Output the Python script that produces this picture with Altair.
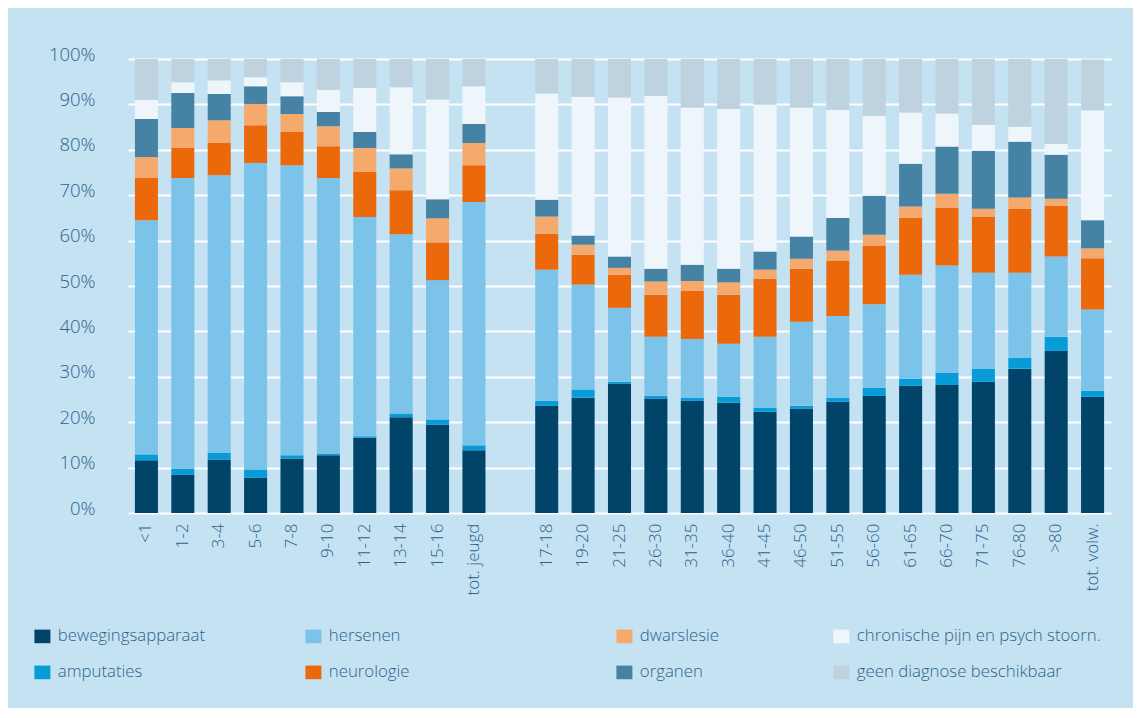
import altair as alt
import pandas as pd

# ---------------- data ----------------
youth = ["<1", "1-2", "3-4", "5-6", "7-8", "9-10", "11-12", "13-14", "15-16", "tot. jeugd"]
adults = ["17-18", "19-20", "21-25", "26-30", "31-35", "36-40", "41-45", "46-50",
          "51-55", "56-60", "61-65", "66-70", "71-75", "76-80", ">80", "tot. volw."]
groups = youth + adults
spacer = " "

categories = ["bewegingsapparaat", "amputaties", "hersenen", "neurologie",
              "dwarslesie", "organen", "chronische pijn en psych stoorn.",
              "geen diagnose beschikbaar"]
colors = ["#00446a", "#079bd8", "#7bc3e9", "#eb690b",
          "#f5a96d", "#4682a3", "#eef6fc", "#bfd2e0"]

bewegingsapparaat = [11.6, 8.5, 11.8, 7.8, 12.0, 12.7, 16.6, 21.1, 19.5, 13.8,
                     23.6, 25.4, 28.5, 25.2, 24.7, 24.3, 22.3, 23.0, 24.5, 25.8, 28.0, 28.2, 28.9, 31.8, 35.7, 25.6]
amputaties = [1.3, 1.3, 1.5, 1.8, 0.7, 0.4, 0.3, 0.8, 1.1, 1.1,
              1.1, 1.8, 0.4, 0.6, 0.7, 1.3, 0.9, 0.6, 0.9, 1.8, 1.6, 2.7, 2.9, 2.4, 3.1, 1.3]
hersenen = [51.6, 64.0, 61.1, 67.5, 63.9, 60.7, 48.3, 39.5, 30.7, 53.6,
            28.9, 23.1, 16.3, 13.0, 12.9, 11.7, 15.6, 18.5, 18.0, 18.4, 22.9, 23.6, 21.1, 18.7, 17.7, 17.9]
neurologie = [9.3, 6.6, 7.1, 8.3, 7.3, 7.0, 9.9, 9.7, 8.3, 8.1,
              7.9, 6.6, 7.3, 9.3, 10.6, 10.8, 12.8, 11.7, 12.2, 12.9, 12.5, 12.7, 12.4, 14.1, 11.2, 11.3]
dwarslesie = [4.6, 4.4, 5.0, 4.7, 4.0, 4.4, 5.3, 4.8, 5.3, 4.9,
              3.8, 2.2, 1.5, 2.9, 2.2, 2.7, 2.0, 2.2, 2.2, 2.4, 2.5, 3.1, 1.7, 2.5, 1.5, 2.2]
organen = [8.4, 7.7, 5.8, 3.9, 3.9, 3.1, 3.5, 3.1, 4.2, 4.2,
           3.7, 2.0, 2.5, 2.8, 3.6, 3.0, 4.0, 4.9, 7.2, 8.6, 9.4, 10.4, 12.8, 12.3, 9.7, 6.2]
chronische_pijn = [4.2, 2.4, 3.0, 2.0, 3.1, 4.9, 9.7, 14.8, 22.0, 8.3,
                   23.4, 30.6, 35.0, 38.1, 34.6, 35.2, 32.3, 28.4, 23.8, 17.6, 11.3, 7.3, 5.7, 3.3, 2.4, 24.2]
geen_diagnose = [9.0, 5.1, 4.7, 4.0, 5.1, 6.8, 6.4, 6.2, 8.9, 6.0,
                 7.6, 8.3, 8.5, 8.1, 10.7, 11.0, 10.1, 10.7, 11.2, 12.5, 11.8, 12.0, 14.5, 14.9, 18.7, 11.2]

series = [bewegingsapparaat, amputaties, hersenen, neurologie,
          dwarslesie, organen, chronische_pijn, geen_diagnose]

rows = []
for ci, (cat, vals) in enumerate(zip(categories, series)):
    for g, v in zip(groups, vals):
        rows.append({"groep": g, "diagnose": cat, "idx": ci, "pct": v})
df = pd.DataFrame(rows)

x_domain = youth + [spacer] + adults

FONT = "Open Sans"
TXT = "#2e6288"
BG = "#c5e2f3"

bars = alt.Chart(df).mark_bar().encode(
    x=alt.X("groep:N", sort=x_domain,
            scale=alt.Scale(domain=x_domain, paddingInner=0.367, paddingOuter=0.19),
            axis=alt.Axis(title=None, labelAngle=-90, labelPadding=10, domain=False,
                          ticks=False, labelFontSize=17, labelFont=FONT, labelFontWeight=300,
                          labelColor=TXT, grid=False)),
    y=alt.Y("pct:Q", stack="zero",
            scale=alt.Scale(domain=[0, 100], nice=False),
            axis=alt.Axis(title=None, values=list(range(0, 101, 10)),
                          labelExpr="datum.value + '%'", domain=False, ticks=False,
                          labelPadding=33, labelFontSize=18.5, labelFont=FONT, labelFontWeight=300,
                          labelColor=TXT, labelBaseline="alphabetic", labelOffset=1,
                          gridColor="#ffffff", gridWidth=2, gridOpacity=1)),
    color=alt.Color("diagnose:N", scale=alt.Scale(domain=categories, range=colors), legend=None),
    order=alt.Order("idx:Q", sort="ascending"),
)

RECT = "M-1,-0.85H1V0.85H-1Z"
leg_x = [-94, 177, 488, 705]


def legend_layer(k):
    cats = [categories[2 * k], categories[2 * k + 1]]
    cols = [colors[2 * k], colors[2 * k + 1]]
    return alt.Chart(df).transform_filter(
        alt.FieldOneOfPredicate(field="diagnose", oneOf=cats)
    ).mark_square(opacity=1, size=10).encode(
        x=alt.value(-3000), y=alt.value(-3000),
        color=alt.Color("diagnose:N", sort=cats,
                        scale=alt.Scale(domain=cats, range=cols),
                        legend=alt.Legend(title=None, orient="none", legendX=leg_x[k], legendY=569,
                                          direction="vertical", symbolType=RECT, symbolSize=256,
                                          symbolStrokeWidth=0, symbolOpacity=1,
                                          labelFont=FONT, labelFontWeight=300, labelFontSize=16.8,
                                          labelColor=TXT, labelOffset=7, rowPadding=18,
                                          labelLimit=400)),
    )


chart = alt.layer(bars, *[legend_layer(k) for k in range(4)]).resolve_scale(
    color="independent"
).properties(
    width=983, height=454,
    autosize=alt.AutoSizeParams(type="none"),
    padding={"left": 120, "top": 51, "right": 22, "bottom": 195},
    background=BG,
).configure_view(stroke=None, fill=BG)

chart.save("out.html", embed_options={"renderer": "svg", "actions": False})
